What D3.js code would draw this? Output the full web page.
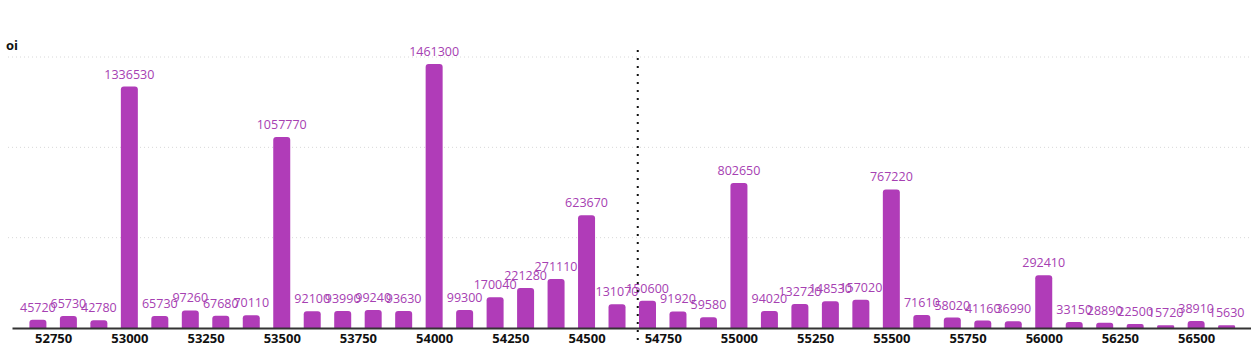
<!DOCTYPE html>
<html>
<head>
<meta charset="utf-8">
<script src="https://cdn.jsdelivr.net/npm/d3@7"></script>
<style>
  body { margin: 0; background: #fff; }
  svg { display: block; font-family: "Open Sans", sans-serif; }
  .grid line { stroke: #d8d8d8; stroke-dasharray: 1,3; }
  .x-axis text { font-weight: 700; font-size: 13px; fill: #111; }
  .bar-label { fill: #a640b2; font-size: 12.5px; }
</style>
</head>
<body>
<div id="chart"></div>
<script>
// strikes and open interest
const strikes = [52700, 52800, 52900, 53000, 53100, 53200, 53300, 53400, 53500, 53600,
  53700, 53800, 53900, 54000, 54100, 54200, 54300, 54400, 54500, 54600,
  54700, 54800, 54900, 55000, 55100, 55200, 55300, 55400, 55500, 55600,
  55700, 55800, 55900, 56000, 56100, 56200, 56300, 56400, 56500, 56600];
const oi = [45720, 65730, 42780, 1336530, 65730, 97260, 67680, 70110, 1057770, 92100,
  93990, 99240, 93630, 1461300, 99300, 170040, 221280, 271110, 623670, 131070,
  150600, 91920, 59580, 802650, 94020, 132720, 148530, 157020, 767220, 71610,
  58020, 41160, 36990, 292410, 33150, 28890, 22500, 15720, 38910, 15630];
const xTicks = [52750, 53000, 53250, 53500, 53750, 54000, 54250, 54500, 54750, 55000, 55250, 55500, 55750, 56000, 56250, 56500];
const yGrid = [500000, 1000000, 1500000];
const spot = 54668;

const width = 1251, height = 353;
const margin = { top: 57, right: 0, bottom: 25, left: 12 };

let svg = d3.select('#chart').append('svg')
  .attr('width', width)
  .attr('height', height);

let x = d3.scaleLinear()
  .domain([52615, 56680])
  .range([margin.left, width - margin.right]);
let y = d3.scaleLinear()
  .domain([0, 1500000])
  .range([height - margin.bottom, margin.top]);

const barW = 17;

// grid
svg.append('g')
  .classed('grid', true)
  .selectAll('line')
  .data(yGrid)
  .enter().append('line')
  .attr('x1', 8)
  .attr('x2', width)
  .attr('y1', d => y(d))
  .attr('y2', d => y(d));

svg.append('text')
  .attr('x', 6)
  .attr('y', 50)
  .style('font-weight', 700)
  .style('font-size', '13px')
  .style('fill', '#111')
  .text('oi');

// bars with rounded tops
let data = strikes.map((s, i) => ({ strike: s, value: oi[i] }));
function barPath(d) {
  let x0 = x(d.strike) - barW / 2, x1 = x0 + barW;
  let y0 = y(0), y1 = y(d.value);
  let r = Math.min(3, (y0 - y1) / 2);
  return `M${x0},${y0}V${y1 + r}Q${x0},${y1} ${x0 + r},${y1}H${x1 - r}Q${x1},${y1} ${x1},${y1 + r}V${y0}Z`;
}
svg.append('g')
  .selectAll('path')
  .data(data)
  .enter().append('path')
  .attr('d', barPath)
  .attr('fill', '#b03cb8');

svg.append('g')
  .selectAll('text')
  .data(data)
  .enter().append('text')
  .classed('bar-label', true)
  .attr('text-anchor', 'middle')
  .attr('x', d => x(d.strike))
  .attr('y', d => y(d.value) - 8)
  .text(d => d.value);

// x axis
let xAxis = svg.append('g')
  .classed('x-axis', true)
  .attr('transform', `translate(0,${y(0)})`)
  .call(d3.axisBottom(x).tickValues(xTicks).tickSize(0).tickPadding(6).tickFormat(d3.format('d')));
xAxis.select('.domain').attr('stroke', '#333').attr('stroke-width', 2);
xAxis.selectAll('text').style('font-family', '"Open Sans", sans-serif');

// spot line
svg.append('line')
  .attr('x1', x(spot))
  .attr('x2', x(spot))
  .attr('y1', 50)
  .attr('y2', 346)
  .attr('stroke', '#111')
  .attr('stroke-width', 2)
  .attr('stroke-dasharray', '2,6');
</script>
</body>
</html>
